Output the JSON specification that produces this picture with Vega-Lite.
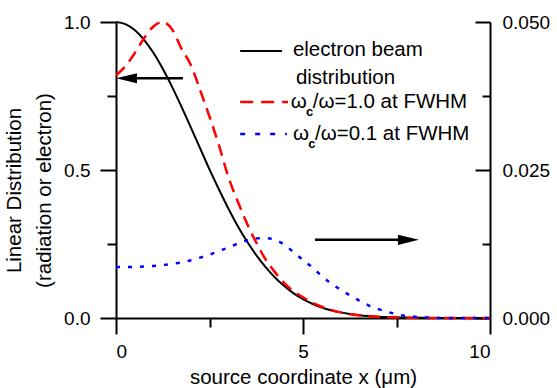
{
  "$schema": "https://vega.github.io/schema/vega-lite/v6.json",
  "width": 374,
  "height": 296,
  "autosize": {"type": "none"},
  "padding": {"left": 116, "top": 22, "right": 67, "bottom": 70},
  "config": {
    "view": {"stroke": null},
    "font": "Liberation Sans",
    "axis": {
      "grid": false,
      "domainColor": "black",
      "domainWidth": 2,
      "tickColor": "black",
      "tickWidth": 2,
      "labelColor": "black",
      "labelFont": "Liberation Sans",
      "labelFontSize": 19,
      "titleFont": "Liberation Sans",
      "titleFontSize": 20.5,
      "titleFontWeight": "normal",
      "titleColor": "black"
    }
  },
  "datasets": {
    "curves": [
      {"x": 0, "black": 1, "red": 0.82, "blue": 0.0086},
      {"x": 0.25, "black": 0.993, "red": 0.85, "blue": 0.0086},
      {"x": 0.5, "black": 0.973, "red": 0.895, "blue": 0.00865},
      {"x": 0.75, "black": 0.94, "red": 0.945, "blue": 0.0087},
      {"x": 1.0, "black": 0.896, "red": 0.985, "blue": 0.0088},
      {"x": 1.25, "black": 0.842, "red": 1.0, "blue": 0.00895},
      {"x": 1.5, "black": 0.781, "red": 0.975, "blue": 0.00915},
      {"x": 1.75, "black": 0.714, "red": 0.91, "blue": 0.0094},
      {"x": 2.0, "black": 0.644, "red": 0.855, "blue": 0.00975},
      {"x": 2.25, "black": 0.573, "red": 0.77, "blue": 0.0102},
      {"x": 2.5, "black": 0.502, "red": 0.68, "blue": 0.0107},
      {"x": 2.75, "black": 0.435, "red": 0.585, "blue": 0.0113},
      {"x": 3.0, "black": 0.371, "red": 0.478, "blue": 0.0119},
      {"x": 3.25, "black": 0.312, "red": 0.395, "blue": 0.01255},
      {"x": 3.5, "black": 0.259, "red": 0.32, "blue": 0.0131},
      {"x": 3.75, "black": 0.2125, "red": 0.255, "blue": 0.01345},
      {"x": 4.0, "black": 0.172, "red": 0.198, "blue": 0.0135},
      {"x": 4.25, "black": 0.137, "red": 0.155, "blue": 0.0132},
      {"x": 4.5, "black": 0.108, "red": 0.118, "blue": 0.0124},
      {"x": 4.75, "black": 0.0833, "red": 0.09, "blue": 0.0111},
      {"x": 5.0, "black": 0.0637, "red": 0.07, "blue": 0.0098},
      {"x": 5.25, "black": 0.0481, "red": 0.052, "blue": 0.00855},
      {"x": 5.5, "black": 0.0357, "red": 0.038, "blue": 0.0071},
      {"x": 5.75, "black": 0.0262, "red": 0.027, "blue": 0.00585},
      {"x": 6.0, "black": 0.019, "red": 0.019, "blue": 0.0048},
      {"x": 6.25, "black": 0.0135, "red": 0.013, "blue": 0.00385},
      {"x": 6.5, "black": 0.0095, "red": 0.009, "blue": 0.00295},
      {"x": 6.75, "black": 0.0066, "red": 0.006, "blue": 0.00215},
      {"x": 7.0, "black": 0.0045, "red": 0.004, "blue": 0.00155},
      {"x": 7.25, "black": 0.0031, "red": 0.0025, "blue": 0.00105},
      {"x": 7.5, "black": 0.002, "red": 0.0015, "blue": 0.00065},
      {"x": 7.75, "black": 0.0013, "red": 0.001, "blue": 0.00035},
      {"x": 8.0, "black": 0.0009, "red": 0.0006, "blue": 0.0002},
      {"x": 8.5, "black": 0.0003, "red": 0.0002, "blue": 0.00005},
      {"x": 9.0, "black": 0.0001, "red": 0.0001, "blue": 0},
      {"x": 9.5, "black": 0, "red": 0, "blue": 0},
      {"x": 10.0, "black": 0, "red": 0, "blue": 0}
    ],
    "arrows": [
      {"x1": 0.3, "x2": 1.79, "y": 0.81, "tip": 0, "dir": "left"},
      {"x1": 5.32, "x2": 7.8, "y": 0.264, "tip": 8.1, "dir": "right"}
    ],
    "legendLines": [
      {"x1": 3.32, "x2": 4.44, "y": 0.902, "series": "black"},
      {"x1": 3.32, "x2": 4.6, "y": 0.73, "series": "red"},
      {"x1": 3.32, "x2": 4.57, "y": 0.622, "series": "blue"}
    ],
    "legendText": [
      {"tx": 4.73, "ty": 0.905, "label": "electron beam"},
      {"tx": 4.81, "ty": 0.81, "label": "distribution"},
      {"tx": 4.67, "ty": 0.73, "label": "ω"},
      {"tx": 5.26, "ty": 0.73, "label": "/ω=1.0 at FWHM"},
      {"tx": 4.73, "ty": 0.622, "label": "ω"},
      {"tx": 5.32, "ty": 0.622, "label": "/ω=0.1 at FWHM"}
    ],
    "legendSub": [
      {"tx": 5.08, "ty": 0.73, "label": "c"},
      {"tx": 5.14, "ty": 0.622, "label": "c"}
    ]
  },
  "layer": [
    {
      "data": {"name": "curves"},
      "mark": {"type": "line", "color": "black", "strokeWidth": 2, "interpolate": "monotone"},
      "encoding": {
        "x": {
          "field": "x", "type": "quantitative",
          "scale": {"domain": [0, 10], "nice": false},
          "axis": {
            "orient": "bottom",
            "title": "source coordinate x (μm)",
            "values": [0, 5, 10],
            "format": "d",
            "ticks": false,
            "labelPadding": 24,
            "titlePadding": 6
          }
        },
        "y": {
          "field": "black", "type": "quantitative",
          "scale": {"domain": [0, 1], "nice": false},
          "axis": {
            "orient": "left",
            "title": ["Linear Distribution", "(radiation or electron)"],
            "values": [0, 0.5, 1],
            "format": ".1f",
            "ticks": false,
            "labelPadding": 26,
            "titleLineHeight": 30,
            "titleX": -92,
            "titleY": 168
          }
        }
      }
    },
    {
      "data": {"name": "curves"},
      "mark": {"type": "line", "color": "#ff0000", "strokeWidth": 2.5, "strokeDash": [12, 7], "interpolate": "monotone"},
      "encoding": {
        "x": {
          "field": "x", "type": "quantitative", "scale": {"domain": [0, 10], "nice": false},
          "axis": {"orient": "bottom", "title": null, "values": [0, 5, 10], "ticks": true, "tickSize": 16, "tickColor": "black", "tickWidth": 2, "labels": false, "domain": false}
        },
        "y": {
          "field": "red", "type": "quantitative", "scale": {"domain": [0, 1], "nice": false},
          "axis": {"orient": "left", "title": null, "values": [0, 0.5, 1], "ticks": true, "tickSize": 16, "tickColor": "black", "tickWidth": 2, "labels": false, "domain": false}
        }
      }
    },
    {
      "data": {"name": "curves"},
      "mark": {"type": "line", "color": "#0000ff", "strokeWidth": 2.5, "strokeDash": [4, 8], "interpolate": "monotone"},
      "encoding": {
        "x": {"field": "x", "type": "quantitative", "scale": {"domain": [0, 10], "nice": false}, "axis": null},
        "y": {
          "field": "blue", "type": "quantitative",
          "scale": {"domain": [0, 0.05], "nice": false},
          "axis": {
            "orient": "right",
            "title": null,
            "values": [0, 0.025, 0.05],
            "format": ".3f",
            "ticks": false,
            "labelPadding": 12
          }
        }
      }
    },
    {
      "data": {"name": "arrows"},
      "mark": {"type": "rule", "color": "black", "strokeWidth": 2.5},
      "encoding": {
        "x": {"field": "x1", "type": "quantitative", "scale": {"domain": [0, 10], "nice": false}, "axis": null},
        "x2": {"field": "x2"},
        "y": {
          "field": "y", "type": "quantitative", "scale": {"domain": [0, 1], "nice": false},
          "axis": {"orient": "right", "title": null, "values": [0, 0.5, 1], "ticks": true, "tickSize": -15, "tickColor": "black", "tickWidth": 2, "labels": false, "domain": false}
        }
      }
    },
    {
      "data": {"name": "arrows"},
      "transform": [{"filter": "datum.dir === 'left'"}],
      "mark": {"type": "point", "filled": true, "color": "black", "opacity": 1, "size": 441, "strokeWidth": 0, "shape": "M0,0L2,-0.48L2,0.48Z"},
      "encoding": {
        "x": {"field": "tip", "type": "quantitative", "scale": {"domain": [0, 10], "nice": false}, "axis": null},
        "y": {"field": "y", "type": "quantitative", "scale": {"domain": [0, 1], "nice": false}, "axis": null}
      }
    },
    {
      "data": {"name": "arrows"},
      "transform": [{"filter": "datum.dir === 'right'"}],
      "mark": {"type": "point", "filled": true, "color": "black", "opacity": 1, "size": 441, "strokeWidth": 0, "shape": "M0,0L-2,-0.48L-2,0.48Z"},
      "encoding": {
        "x": {"field": "tip", "type": "quantitative", "scale": {"domain": [0, 10], "nice": false}, "axis": null},
        "y": {"field": "y", "type": "quantitative", "scale": {"domain": [0, 1], "nice": false}, "axis": null}
      }
    },
    {
      "data": {"name": "legendLines"},
      "transform": [{"filter": "datum.series === 'black'"}],
      "mark": {"type": "rule", "color": "black", "strokeWidth": 2},
      "encoding": {
        "x": {
          "field": "x1", "type": "quantitative", "scale": {"domain": [0, 10], "nice": false},
          "axis": {"orient": "bottom", "title": null, "values": [2.5, 7.5], "ticks": true, "tickSize": 9, "tickColor": "black", "tickWidth": 2, "labels": false, "domain": false}
        },
        "x2": {"field": "x2"},
        "y": {
          "field": "y", "type": "quantitative", "scale": {"domain": [0, 1], "nice": false},
          "axis": {"orient": "left", "title": null, "values": [0.25, 0.75], "ticks": true, "tickSize": 9, "tickColor": "black", "tickWidth": 2, "labels": false, "domain": false}
        }
      }
    },
    {
      "data": {"name": "legendLines"},
      "transform": [{"filter": "datum.series === 'red'"}],
      "mark": {"type": "rule", "color": "#ff0000", "strokeWidth": 2.5, "strokeDash": [13, 8]},
      "encoding": {
        "x": {"field": "x1", "type": "quantitative", "scale": {"domain": [0, 10], "nice": false}, "axis": null},
        "x2": {"field": "x2"},
        "y": {
          "field": "y", "type": "quantitative", "scale": {"domain": [0, 1], "nice": false},
          "axis": {"orient": "right", "title": null, "values": [0.25, 0.75], "ticks": true, "tickSize": -8, "tickColor": "black", "tickWidth": 2, "labels": false, "domain": false}
        }
      }
    },
    {
      "data": {"name": "legendLines"},
      "transform": [{"filter": "datum.series === 'blue'"}],
      "mark": {"type": "rule", "color": "#0000ff", "strokeWidth": 2.5, "strokeDash": [5, 10]},
      "encoding": {
        "x": {"field": "x1", "type": "quantitative", "scale": {"domain": [0, 10], "nice": false}, "axis": null},
        "x2": {"field": "x2"},
        "y": {"field": "y", "type": "quantitative", "scale": {"domain": [0, 1], "nice": false}, "axis": null}
      }
    },
    {
      "data": {"name": "legendText"},
      "mark": {"type": "text", "align": "left", "baseline": "middle", "fontSize": 20.5, "color": "black", "font": "Liberation Sans"},
      "encoding": {
        "x": {"field": "tx", "type": "quantitative", "scale": {"domain": [0, 10], "nice": false}, "axis": null},
        "y": {"field": "ty", "type": "quantitative", "scale": {"domain": [0, 1], "nice": false}, "axis": null},
        "text": {"field": "label"}
      }
    },
    {
      "data": {"name": "legendSub"},
      "mark": {"type": "text", "align": "left", "baseline": "middle", "fontSize": 13, "fontWeight": "bold", "dy": 10, "color": "black", "font": "Liberation Sans"},
      "encoding": {
        "x": {"field": "tx", "type": "quantitative", "scale": {"domain": [0, 10], "nice": false}, "axis": null},
        "y": {"field": "ty", "type": "quantitative", "scale": {"domain": [0, 1], "nice": false}, "axis": null},
        "text": {"field": "label"}
      }
    }
  ],
  "resolve": {"scale": {"y": "independent"}, "axis": {"x": "independent", "y": "independent"}}
}
